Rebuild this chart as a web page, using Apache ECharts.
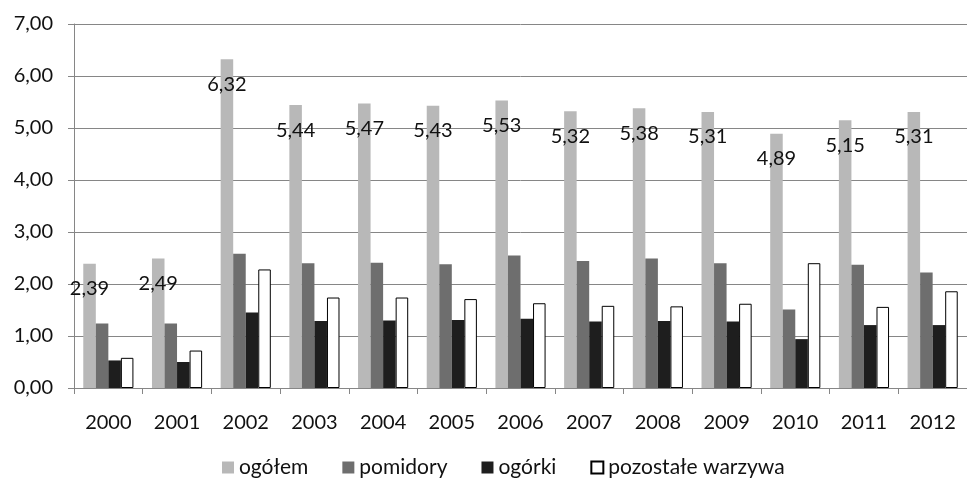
<!DOCTYPE html>
<html><head><meta charset="utf-8">
<script src="https://cdn.jsdelivr.net/npm/echarts@6/dist/echarts.min.js"></script>
<style>html,body{margin:0;padding:0;background:#fff}#c{width:967px;height:478px}</style>
</head><body><div id="c"></div>
<script>
const years = ['2000','2001','2002','2003','2004','2005','2006','2007','2008','2009','2010','2011','2012'];
const ogolem = [2.39,2.49,6.32,5.44,5.47,5.43,5.53,5.32,5.38,5.31,4.89,5.15,5.31];
const pomidory = [1.24,1.24,2.58,2.40,2.41,2.38,2.55,2.44,2.49,2.40,1.51,2.37,2.22];
const ogorki = [0.53,0.50,1.45,1.29,1.30,1.31,1.33,1.28,1.29,1.28,0.94,1.21,1.21];
const pozostale = [0.58,0.72,2.28,1.74,1.74,1.71,1.63,1.58,1.57,1.62,2.40,1.56,1.86];
const fmt = v => v.toFixed(2).replace('.', ',');
const FONT = 'Lato';
const chart = echarts.init(document.getElementById('c'));
chart.setOption({
  animation:false,
  textStyle:{fontFamily:FONT},
  grid:{left:74,right:-10,top:24,bottom:90},
  legend:{top:457,left:222,padding:0,itemWidth:12,itemHeight:12,itemGap:34,
    textStyle:{fontSize:21,color:'#111',fontFamily:FONT},
    data:[{name:'ogółem',icon:'rect'},{name:'pomidory',icon:'rect'},{name:'ogórki',icon:'rect'},{name:'pozostałe warzywa',icon:'rect'}]},
  xAxis:{type:'category',data:years,
    axisLine:{lineStyle:{color:'#868686'}},
    axisTick:{show:true,alignWithLabel:false,length:6,lineStyle:{color:'#868686'}},
    axisLabel:{fontSize:20,color:'#111',margin:25,fontFamily:FONT}},
  yAxis:{type:'value',min:0,max:7,interval:1,
    axisLine:{show:true,lineStyle:{color:'#868686'}},
    axisTick:{show:true,length:6,lineStyle:{color:'#868686'}},
    splitLine:{lineStyle:{color:'#868686'}},
    axisLabel:{fontSize:20,color:'#111',margin:21,formatter:v=>fmt(v),fontFamily:FONT}},
  series:[
    {name:'ogółem',type:'bar',data:ogolem,barGap:'0%',barCategoryGap:'27%',
     itemStyle:{color:'#b8b8b8'},
     label:{show:true,position:'insideTop',distance:15,fontSize:20,color:'#111',fontFamily:FONT,formatter:p=>fmt(p.value)}},
    {name:'pomidory',type:'bar',data:pomidory,itemStyle:{color:'#6e6e6e'}},
    {name:'ogórki',type:'bar',data:ogorki,itemStyle:{color:'#1e1e1e'}},
    {name:'pozostałe warzywa',type:'bar',data:pozostale,itemStyle:{color:'#ffffff',borderColor:'#000',borderWidth:1}}
  ]
});
</script></body></html>
